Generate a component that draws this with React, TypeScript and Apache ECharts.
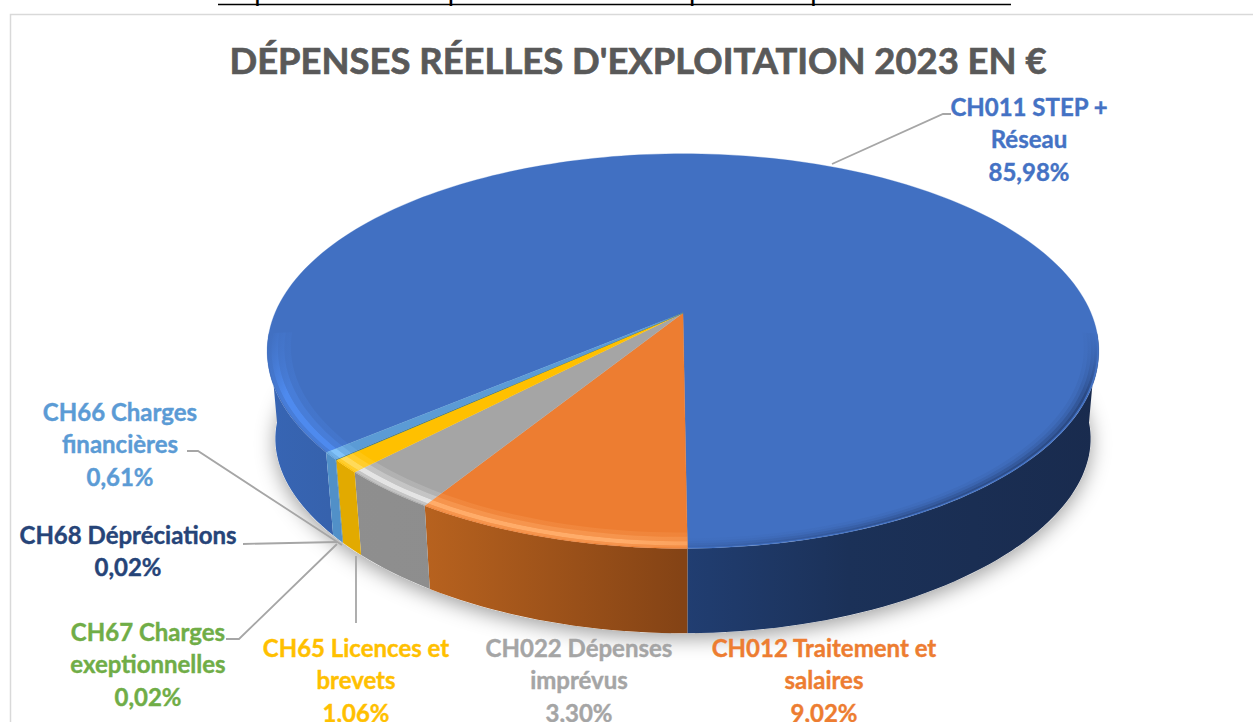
import React, { useEffect, useRef } from "react";
import * as echarts from "echarts";

const categories = [
  "CH011 STEP + Réseau",
  "CH012 Traitement et salaires",
  "CH022 Dépenses imprévus",
  "CH65 Licences et brevets",
  "CH67 Charges exeptionnelles",
  "CH68 Dépréciations",
  "CH66 Charges financières",
];
const shares = [85.98, 9.02, 3.3, 1.06, 0.02, 0.02, 0.61];
const labelLines = [
  ["CH011 STEP +", "Réseau", "85,98%"],
  ["CH012 Traitement et", "salaires", "9,02%"],
  ["CH022 Dépenses", "imprévus", "3,30%"],
  ["CH65 Licences et", "brevets", "1,06%"],
  ["CH67 Charges", "exeptionnelles", "0,02%"],
  ["CH68 Dépréciations", "0,02%"],
  ["CH66 Charges", "financières", "0,61%"],
];
const titleText = "DÉPENSES RÉELLES D'EXPLOITATION 2023 EN €";
const captionText = "Répartition des dépenses réelles d'exploitation prévisionnelles";

// styling and layout
const topColors = ["#4170c2", "#ed7d31", "#a5a5a5", "#ffc000", "#70ad47", "#264478", "#5b9bd5"];
const textColors = ["#4472c4", "#ed7d31", "#a5a5a5", "#ffc000", "#70ad47", "#264478", "#5b9bd5"];
const ridgeRgb = ["78,138,238", "255,172,105", "228,228,228", "255,218,90", "140,200,100", "60,100,170", "130,195,250"];
const wallStops: [number, string][][] = [
  [[0, "#3765b4"], [0.15, "#355fa6"], [0.5, "#213e72"], [0.7, "#1b3158"], [1, "#192b4e"]],
  [[0, "#b9631f"], [0.18, "#b9631f"], [0.5, "#844315"], [1, "#844315"]],
  [[0, "#8f8f8f"], [1, "#888888"]],
  [[0, "#e2aa00"], [1, "#e2aa00"]],
  [[0, "#5f9539"], [1, "#5f9539"]],
  [[0, "#203a66"], [1, "#203a66"]],
  [[0, "#5190c8"], [1, "#5190c8"]],
];
const labelCenters: [number, number][] = [
  [1029, 106], [824, 647], [579, 647], [356, 647], [148, 631], [128, 534], [120, 411],
];
const leaderLines: [number, number][][] = [
  [[832, 164], [943, 114], [951, 114]],
  [[356, 556], [356, 623]],
  [],
  [],
  [[226, 639], [239, 639], [337, 544]],
  [[243, 544], [337, 542]],
  [[187, 451], [198, 451], [342, 545]],
];
const LINE_HEIGHT = 32.5;
const CX = 683;
const CY = 313;
const RX = 408;
const RY = 190;
const PERSP = 0.193;
const DEPTH = 91;
const LOWER_RX = 400;
const LOWER_RY = 171;
const LOWER_PERSP_Y = 0.254;
const START_DEG = 230.0;
const VISIBLE_WINDOWS: [number, number][] = [
  [96, 264],
  [456, 624],
];
const LEFT_BANDS: [number, number, number][] = [
  [0.998, 0.99, 0.5],
  [0.99, 0.975, 1],
  [0.975, 0.96, 0.5],
  [0.96, 0.945, 0.2],
];
const RIGHT_BANDS: [number, number, number][] = [
  [0.996, 0.99, 0.5],
  [0.99, 0.982, 0.32],
  [0.982, 0.974, 0.16],
  [0.974, 0.965, 0.06],
];

function project(deg: number, r: number, level: number): [number, number] {
  const t = (deg * Math.PI) / 180;
  const X = Math.sin(t) * r;
  const Y = -Math.cos(t) * r;
  if (level === 0) {
    const d = 1 - PERSP * Y;
    return [CX + (RX * X) / d, CY + (RY * Y) / d];
  }
  return [
    CX + (LOWER_RX * X) / (1 - PERSP * Y),
    CY + DEPTH + (LOWER_RY * Y) / (1 - LOWER_PERSP_Y * Y),
  ];
}

function arc(a: number, b: number, r: number, level: number): [number, number][] {
  const n = Math.max(2, Math.ceil(Math.abs(b - a) / 1.5));
  const pts: [number, number][] = [];
  for (let i = 0; i <= n; i++) pts.push(project(a + ((b - a) * i) / n, r, level));
  return pts;
}

function sliceRanges() {
  const total = shares.reduce((s, v) => s + v, 0);
  let a = START_DEG;
  return shares.map((v) => {
    const b = a + (v / total) * 360;
    const out = [a, b];
    a = b;
    return out;
  });
}

function visibleParts(a: number, b: number): [number, number][] {
  const parts: [number, number][] = [];
  for (const [lo, hi] of VISIBLE_WINDOWS) {
    const p = Math.max(a, lo);
    const q = Math.min(b, hi);
    if (q > p) parts.push([p, q]);
  }
  return parts;
}

function wallFill(stops: [number, string][]) {
  return new echarts.graphic.LinearGradient(
    267, 0, 1099, 0,
    stops.map(([offset, color]) => ({ offset, color })),
    true
  );
}

function renderSlice(params: any, api: any) {
  const idx = params.dataIndex;
  const a = api.value(1) as number;
  const b = api.value(2) as number;
  const children: any[] = [];
  visibleParts(a, b).forEach(([p, q]) => {
    children.push({
      type: "polygon",
      shape: { points: [...arc(p, q, 1, 0), ...arc(q, p, 1, 1)] },
      style: { fill: wallFill(wallStops[idx]) },
    });
  });
  children.push({
    type: "polygon",
    shape: { points: [[CX, CY], ...arc(a, b, 1, 0)] },
    style: { fill: topColors[idx], stroke: topColors[idx], lineWidth: 0.3 },
  });
  return { type: "group", children };
}

function renderRim(params: any, api: any) {
  const idx = params.dataIndex;
  const a = api.value(1) as number;
  const b = api.value(2) as number;
  const children: any[] = [];
  visibleParts(a, b).forEach(([p, q]) => {
    const isLeft = ((p + q) / 2) % 360 >= 180;
    const rgb = ridgeRgb[idx];
    const bands = isLeft ? LEFT_BANDS : RIGHT_BANDS;
    bands.forEach(([r1, r2, alpha]) => {
      const pts = [...arc(p, q, r1, 0), ...arc(q, p, r2, 0)];
      const fill = isLeft
        ? new echarts.graphic.LinearGradient(
            267, 345, 760, 560,
            [
              { offset: 0, color: `rgba(${rgb},0)` },
              { offset: 0.07, color: `rgba(${rgb},${alpha})` },
              { offset: 0.75, color: `rgba(${rgb},${alpha})` },
              { offset: 1, color: `rgba(${rgb},${alpha * 0.5})` },
            ],
            true
          )
        : new echarts.graphic.LinearGradient(
            1099, 340, 688, 560,
            [
              { offset: 0, color: "rgba(20,35,70,0)" },
              { offset: 0.08, color: `rgba(20,35,70,${alpha})` },
              { offset: 0.55, color: `rgba(20,35,70,${alpha * 0.8})` },
              { offset: 1, color: `rgba(20,35,70,${alpha * 0.25})` },
            ],
            true
          );
      children.push({ type: "polygon", shape: { points: pts }, style: { fill } });
    });
  });
  return { type: "group", children };
}

const ranges = sliceRanges();
const sliceData = categories.map((name, i) => ({
  name,
  value: [shares[i], ranges[i][0], ranges[i][1]],
}));

export default function App() {
  const ref = useRef<HTMLDivElement>(null);
  useEffect(() => {
    document.body.style.margin = "0";
    const chart = echarts.init(ref.current!, undefined, { renderer: "svg" });
    const graphics: any[] = [
      {
        type: "rect",
        shape: { x: 10.5, y: 14.5, width: 1400, height: 900 },
        style: { fill: "#ffffff", stroke: "#d9d9d9", lineWidth: 1.5 },
        z: 0,
      },
      {
        type: "text",
        x: 218,
        y: 3.5,
        style: {
          text: captionText,
          fill: "#000000",
          font: '28.3px "Liberation Sans"',
          align: "left",
          verticalAlign: "bottom",
        },
        z: 1,
      },
      {
        type: "line",
        shape: { x1: 218, y1: 4.5, x2: 1011, y2: 4.5 },
        style: { stroke: "#000000", lineWidth: 1.5 },
        z: 1,
      },
      {
        type: "text",
        x: 638,
        y: 60,
        style: {
          text: titleText,
          fill: "#595959",
          font: "bold 36.4px Lato",
          align: "center",
          verticalAlign: "middle",
          stroke: "#595959",
          lineWidth: 0.7,
        },
        z: 1,
      },
      {
        // soft shadow underneath the disc
        type: "polygon",
        shape: { points: arc(0, 360, 1, 1) },
        style: {
          fill: "#ffffff",
          shadowBlur: 20,
          shadowColor: "rgba(0,0,0,0.38)",
          shadowOffsetY: 5,
        },
        z: 1,
      },
    ];
    labelLines.forEach((lines, i) => {
      const [x, y] = labelCenters[i];
      lines.forEach((line, j) => {
        graphics.push({
          type: "text",
          x,
          y: y + j * LINE_HEIGHT,
          style: {
            text: line,
            fill: textColors[i],
            font: "bold 24px Lato",
            align: "center",
            verticalAlign: "middle",
            stroke: textColors[i],
            lineWidth: 0.4,
          },
          z: 20,
        });
      });
    });
    leaderLines.forEach((pts) => {
      if (!pts.length) return;
      graphics.push({
        type: "polyline",
        shape: { points: pts },
        style: { stroke: "#a6a6a6", lineWidth: 1.8, fill: "none" },
        z: 20,
      });
    });
    chart.setOption({
      animation: false,
      backgroundColor: "#ffffff",
      graphic: { elements: graphics },
      series: [
        {
          type: "custom",
          coordinateSystem: "none",
          renderItem: renderSlice,
          data: sliceData,
          z: 5,
          silent: true,
        },
        {
          type: "custom",
          coordinateSystem: "none",
          renderItem: renderRim,
          data: sliceData,
          z: 6,
          silent: true,
        },
      ],
    });
    return () => chart.dispose();
  }, []);
  return (
    <div
      ref={ref}
      style={{ position: "absolute", left: 0, top: 0, width: 1253, height: 722 }}
    />
  );
}
